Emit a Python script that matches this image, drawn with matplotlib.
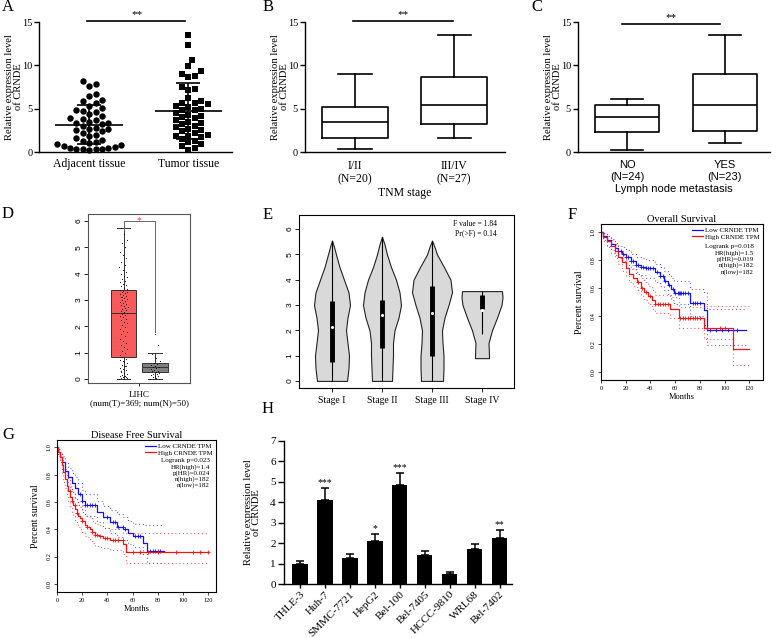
import matplotlib
matplotlib.use("Agg")
import matplotlib.pyplot as plt
import numpy as np

W, H = 776, 638
plt.rcParams['font.family'] = ['Liberation Serif', 'DejaVu Serif']
plt.rcParams['axes.linewidth'] = 1.0
SANS = ['Liberation Sans', 'DejaVu Sans']

# ---------------- data ----------------
# A: individual expression values
adj_vals = [8.2, 7.9, 7.6, 6.7, 6.5, 6.0, 5.9, 5.6, 5.3, 5.1, 4.9, 4.7, 4.6, 4.4, 4.2,
            3.9, 3.8, 3.7, 3.5, 3.4, 3.3, 3.2, 3.0, 2.8, 2.7, 2.6, 2.5, 2.4, 2.2, 2.0,
            1.9, 1.6, 1.4, 1.3, 1.2, 1.0, 0.9, 0.8, 0.7, 0.6, 0.5, 0.5, 0.4, 0.4, 0.3,
            0.3, 0.2]
tum_vals = [13.5, 12.4, 10.6, 9.9, 9.4, 9.0, 8.8, 8.7, 7.5, 7.3, 7.2, 6.2, 5.9, 5.7, 5.6,
            5.5, 5.3, 5.2, 5.0, 4.9, 4.8, 4.5, 4.3, 4.2, 4.0, 3.9, 3.7, 3.5, 3.3, 3.2,
            3.0, 2.9, 2.7, 2.5, 2.4, 2.2, 2.0, 1.9, 1.8, 1.7, 1.5, 1.3, 1.1, 0.9, 0.7,
            0.5, 0.2]
A_labels = ["Adjacent tissue", "Tumor tissue"]

# B / C: box statistics (whislo, q1, med, q3, whishi)
B_labels = ["I/II\n(N=20)", "III/IV\n(N=27)"]
B_lo = [0.3, 1.6]
B_q1 = [1.6, 3.25]
B_med = [3.5, 5.45]
B_q3 = [5.2, 8.7]
B_hi = [9.0, 13.5]

C_labels = ["NO\n(N=24)", "YES\n(N=23)"]
C_lo = [0.2, 1.0]
C_q1 = [2.3, 2.45]
C_med = [4.05, 5.45]
C_q3 = [5.4, 9.0]
C_hi = [6.15, 13.5]

# D: GEPIA box plot (tumor, normal)
D_lo = [0.0, 0.0]
D_q1 = [0.83, 0.27]
D_med = [2.5, 0.45]
D_q3 = [3.38, 0.6]
D_hi = [5.74, 1.0]
D_tumor_pts = [0.00, 0.02, 0.04, 0.06, 0.08, 0.10, 0.13, 0.16, 0.20, 0.24, 0.28, 0.33, 0.38,
               0.43, 0.48, 0.54, 0.60, 0.66, 0.72, 0.78, 0.83, 0.05, 0.12, 0.30, 0.50, 0.70,
               0.90, 0.98, 1.06, 1.14, 1.22, 1.30, 1.38, 1.46, 1.54, 1.62, 1.70, 1.77, 1.84,
               1.91, 1.98, 2.05, 2.12, 2.18, 2.24, 2.30, 2.35, 2.40, 2.44, 2.48, 2.52,
               2.56, 2.60, 2.64, 2.68, 2.72, 2.76, 2.80, 2.84, 2.88, 2.92, 2.96, 3.00, 3.04,
               3.08, 3.12, 3.16, 3.20, 3.23, 3.26, 3.29, 3.32, 3.35, 3.38, 2.70, 3.10,
               3.42, 3.47, 3.52, 3.57, 3.62, 3.68, 3.74, 3.80, 3.86, 3.93, 4.00, 4.08, 4.16,
               4.25, 4.35, 4.46, 4.58, 4.70, 4.84, 5.00, 5.15, 5.30, 5.50, 5.72]
D_normal_pts = [0.02, 0.05, 0.08, 0.10, 0.12, 0.15, 0.18, 0.20, 0.23, 0.26, 0.29, 0.32, 0.35,
                0.38, 0.41, 0.44, 0.47, 0.50, 0.54, 0.58, 0.62, 0.70, 0.80, 0.95, 1.30, 1.70]

# E: violin density profiles (half widths in stage units) and inner boxes
E_labels = ["Stage I", "Stage II", "Stage III", "Stage IV"]
E_coords = [[0, 0.5, 1, 1.5, 2, 2.5, 3, 3.5, 4, 4.5, 5, 5.3, 5.55],
            [0, 0.5, 1, 1.5, 2, 2.5, 3, 3.5, 4, 4.5, 5, 5.4, 5.7],
            [0, 0.5, 1, 1.5, 2, 2.5, 3, 3.5, 4, 4.5, 5, 5.3, 5.55],
            [0.9, 1.0, 1.5, 2.0, 2.5, 3.0, 3.3, 3.55]]
E_half = [[0.30, 0.33, 0.34, 0.31, 0.28, 0.31, 0.36, 0.33, 0.24, 0.15, 0.08, 0.04, 0.0],
          [0.20, 0.21, 0.22, 0.22, 0.25, 0.33, 0.38, 0.35, 0.28, 0.18, 0.10, 0.05, 0.0],
          [0.22, 0.23, 0.23, 0.21, 0.20, 0.25, 0.33, 0.40, 0.37, 0.24, 0.10, 0.05, 0.0],
          [0.14, 0.14, 0.13, 0.20, 0.30, 0.39, 0.41, 0.40]]
E_min = [0.0, 0.0, 0.0, 1.85]
E_max = [5.55, 5.7, 5.55, 3.55]
E_q1 = [0.75, 1.3, 1.0, 2.83]
E_q3 = [3.15, 3.2, 3.75, 3.4]
E_med = [2.15, 2.6, 2.7, 2.8]

# F: overall survival
F_low_t = [0, 2, 5, 8, 11, 14, 17, 20, 24, 28, 32, 36, 40, 44, 48, 51, 54, 57, 59, 72, 83, 86, 117]
F_low_s = [1.0, 0.97, 0.94, 0.91, 0.88, 0.86, 0.84, 0.82, 0.79, 0.76, 0.75, 0.74, 0.74, 0.71,
           0.68, 0.65, 0.62, 0.59, 0.56, 0.49, 0.44, 0.30, 0.30]
F_low_hi = [1.0, 0.99, 0.97, 0.95, 0.92, 0.90, 0.89, 0.87, 0.84, 0.82, 0.81, 0.80, 0.80, 0.77,
            0.75, 0.72, 0.70, 0.67, 0.65, 0.59, 0.57, 0.45, 0.45]
F_low_lo = [1.0, 0.94, 0.90, 0.87, 0.83, 0.81, 0.79, 0.76, 0.73, 0.70, 0.69, 0.67, 0.67, 0.64,
            0.61, 0.58, 0.55, 0.51, 0.48, 0.40, 0.33, 0.19, 0.19]
F_low_cens = [14, 16, 18, 20, 22, 24, 26, 28, 30, 32, 34, 36, 38, 40, 42, 45, 48, 50, 52, 55,
              58, 60, 62, 63, 64, 65, 66, 68, 70, 74, 76, 78, 80, 88, 93, 98, 103, 110]
F_high_t = [0, 2, 5, 8, 11, 14, 17, 20, 23, 26, 29, 32, 35, 38, 41, 44, 56, 63, 83, 107, 120]
F_high_s = [1.0, 0.96, 0.93, 0.90, 0.86, 0.82, 0.78, 0.74, 0.70, 0.67, 0.64, 0.60, 0.57, 0.54,
            0.51, 0.48, 0.45, 0.38, 0.31, 0.16, 0.16]
F_high_hi = [1.0, 0.99, 0.97, 0.94, 0.91, 0.87, 0.83, 0.80, 0.76, 0.73, 0.70, 0.67, 0.64, 0.61,
             0.58, 0.55, 0.53, 0.46, 0.47, 0.47, 0.47]
F_high_lo = [1.0, 0.93, 0.89, 0.85, 0.81, 0.77, 0.72, 0.68, 0.64, 0.61, 0.58, 0.54, 0.51, 0.48,
             0.45, 0.42, 0.38, 0.31, 0.23, 0.05, 0.05]
F_high_cens = [30, 33, 36, 40, 44, 46, 48, 50, 52, 54, 64, 66, 68, 70, 72, 74, 76, 78, 80, 86,
               96, 100]
F_stats = "Logrank p=0.018\nHR(high)=1.5\np(HR)=0.019\nn(high)=182\nn(low)=182"

# G: disease free survival
G_low_t = [0, 1, 2.5, 4, 6.3, 9, 11.6, 14.3, 16.9, 19.6, 22, 31.5, 36.5, 42, 47.4, 52.6, 56.6,
           60.6, 68.5, 71, 84.4]
G_low_s = [1.0, 0.97, 0.93, 0.89, 0.83, 0.78, 0.74, 0.70, 0.66, 0.61, 0.58, 0.53, 0.49, 0.455,
           0.42, 0.40, 0.37, 0.35, 0.30, 0.24, 0.24]
G_low_hi = [1.0, 0.99, 0.97, 0.94, 0.89, 0.85, 0.81, 0.78, 0.74, 0.69, 0.66, 0.61, 0.57, 0.54,
            0.51, 0.49, 0.46, 0.44, 0.43, 0.43, 0.43]
G_low_lo = [1.0, 0.94, 0.89, 0.84, 0.77, 0.71, 0.67, 0.62, 0.58, 0.53, 0.50, 0.45, 0.41, 0.37,
            0.34, 0.32, 0.29, 0.27, 0.22, 0.15, 0.15]
G_low_cens = [18, 20, 22, 24, 26, 28, 30, 40, 44, 46, 48, 52, 54, 62, 64, 66, 74, 76, 78, 80, 82]
G_high_t = [0, 1, 2.4, 3.7, 5, 6.3, 7.7, 9, 10.3, 11.6, 12.9, 14.3, 15.6, 17, 18.3, 20, 22, 24,
            26, 28, 30, 33, 36.7, 42, 52.6, 55, 120]
G_high_s = [1.0, 0.97, 0.93, 0.87, 0.82, 0.77, 0.72, 0.68, 0.64, 0.61, 0.58, 0.55, 0.52, 0.50,
            0.48, 0.46, 0.43, 0.42, 0.40, 0.38, 0.36, 0.35, 0.335, 0.32, 0.293, 0.23, 0.23]
G_high_hi = [1.0, 0.99, 0.97, 0.93, 0.89, 0.84, 0.80, 0.76, 0.72, 0.69, 0.66, 0.63, 0.60, 0.58,
             0.56, 0.54, 0.51, 0.50, 0.48, 0.46, 0.44, 0.43, 0.41, 0.40, 0.37, 0.37, 0.37]
G_high_lo = [1.0, 0.94, 0.89, 0.81, 0.75, 0.70, 0.65, 0.60, 0.56, 0.53, 0.50, 0.47, 0.44, 0.42,
             0.40, 0.38, 0.35, 0.34, 0.32, 0.30, 0.28, 0.27, 0.26, 0.25, 0.22, 0.15, 0.15]
G_high_cens = [10, 12, 14, 16, 20, 24, 28, 30, 32, 34, 38, 40, 44, 46, 48, 52, 60, 66, 72, 80,
               94, 108, 113, 120]
G_stats = "Logrank p=0.023\nHR(high)=1.4\np(HR)=0.024\nn(high)=182\nn(low)=182"

# H: cell lines
H_labels = ["THLE-3", "Huh-7", "SMMC-7721", "HepG2", "Bel-100", "Bel-7405", "HCCC-9810",
            "WRL68", "Bel-7402"]
H_vals = [1.0, 4.1, 1.25, 2.1, 4.85, 1.42, 0.5, 1.71, 2.25]
H_err = [0.12, 0.6, 0.2, 0.35, 0.58, 0.2, 0.09, 0.25, 0.39]
H_sig = ["", "***", "", "*", "***", "", "", "", "**"]

# ---------------- figure ----------------
fig = plt.figure(figsize=(W / 100, H / 100), dpi=100)


def add_ax(l, t, r, b):
    return fig.add_axes([l / W, 1 - b / H, (r - l) / W, (b - t) / H])


def letter(x, y, s):
    fig.text(x / W, 1 - y / H, s, fontsize=12, ha='center', va='center')


def prism_style(ax):
    for sp in ['top', 'right']:
        ax.spines[sp].set_visible(False)
    ax.tick_params(axis='y', direction='out', length=3.5, width=1, labelsize=7.5, pad=1.5)
    ax.tick_params(axis='x', length=0, labelsize=8.5, pad=4)
    ax.set_ylim(0, 15)
    ax.set_yticks([0, 5, 10, 15])


def ylab(ax, xcoord):
    ax.set_ylabel("Relative expression level\nof CRNDE", fontsize=7.6, linespacing=0.95)
    ax.yaxis.set_label_coords(xcoord, 0.5)


def swarm_x(ax, xc, vals, d):
    pts = ax.transData.transform(np.column_stack([np.full(len(vals), xc), vals]))
    inv = ax.transData.inverted()
    placed = []
    out = np.zeros(len(vals))
    cands = [0.0]
    for j in range(1, 40):
        cands += [j * d * 0.5, -j * d * 0.5]
    for i in np.argsort(vals):
        y = pts[i, 1]
        for c in cands:
            x = pts[i, 0] + c
            if all((x - px) ** 2 + (y - py) ** 2 >= (d * 0.98) ** 2 for px, py in placed):
                break
        placed.append((x, y))
        out[i] = inv.transform((x, y))[0]
    return out


# ---- A ----
axA = add_ax(39, 22, 232, 152)
prism_style(axA)
axA.tick_params(axis='y', pad=1)
axA.set_xlim(0.495, 2.44)
for xc, vals, mk, ms in [(1, adj_vals, 'o', 4.6), (2, tum_vals, 's', 4.3)]:
    xs = swarm_x(axA, xc, vals, 6.4)
    axA.plot(xs, vals, mk, color='black', ms=ms, mew=0, clip_on=False, zorder=3)
    m, sd = np.mean(vals), np.std(vals, ddof=1)
    axA.hlines(m, xc - 0.34, xc + 0.34, color='black', lw=1.2, zorder=4)
    axA.hlines([m - sd, m + sd], xc - 0.12, xc + 0.12, color='black', lw=1.2, zorder=4)
    axA.vlines(xc, m - sd, m + sd, color='black', lw=1.2, zorder=4)
axA.set_xticks([1, 2])
axA.set_xticklabels(A_labels)
axA.plot([0.98, 1.97], [15.1, 15.1], color='black', lw=1.2, clip_on=False)
axA.text(1.48, 15.3, "**", ha='center', va='bottom', fontsize=8)
ylab(axA, -0.084)
letter(8, 7, "A")


# ---- B / C ----
def box_panel(ax, lo, q1, med, q3, hi, xlim, width):
    stats = [dict(whislo=a, q1=b, med=c, q3=d, whishi=e, fliers=[])
             for a, b, c, d, e in zip(lo, q1, med, q3, hi)]
    kw = dict(color='black', lw=1.2)
    ax.bxp(stats, positions=[1, 2], widths=width, capwidths=width / 2, showfliers=False,
           boxprops=kw, whiskerprops=kw, capprops=kw, medianprops=kw)
    prism_style(ax)
    ax.set_xlim(*xlim)


axB = add_ax(305, 22, 505, 152)
box_panel(axB, B_lo, B_q1, B_med, B_q3, B_hi, (0.495, 2.515), 0.667)
axB.set_xticklabels(B_labels, linespacing=1.1)
axB.tick_params(axis='x', pad=6)
axB.set_xlabel("TNM stage", fontsize=8.5, labelpad=1)
axB.plot([0.98, 1.99], [15.1, 15.1], color='black', lw=1.2, clip_on=False)
axB.text(1.49, 15.3, "**", ha='center', va='bottom', fontsize=8)
ylab(axB, -0.08)
letter(268, 7, "B")

axC = add_ax(578, 22, 770, 152)
box_panel(axC, C_lo, C_q1, C_med, C_q3, C_hi, (0.5, 2.46), 0.65)
axC.set_xticklabels(C_labels, family=SANS, fontsize=8, linespacing=1.15)
axC.tick_params(axis='x', pad=6)
axC.set_xlabel("Lymph node metastasis", family=SANS, fontsize=8, labelpad=2)
axC.plot([0.95, 1.95], [14.8, 14.8], color='black', lw=1.2, clip_on=False)
axC.text(1.45, 15.0, "**", ha='center', va='bottom', fontsize=8)
ylab(axC, -0.083)
letter(537, 7, "C")

# ---- D ----
axD = add_ax(88, 214, 190, 383)
axD.set_xlim(-0.127, 3.11)
axD.set_ylim(-0.15, 6.27)
statsD = [dict(whislo=a, q1=b, med=c, q3=d, whishi=e, fliers=[])
          for a, b, c, d, e in zip(D_lo, D_q1, D_med, D_q3, D_hi)]
bp = axD.bxp(statsD, positions=[1, 2], widths=0.8, capwidths=0.42, showfliers=False,
             patch_artist=True,
             boxprops=dict(edgecolor='#333333', lw=0.7),
             whiskerprops=dict(color='#333333', lw=0.7),
             capprops=dict(color='#333333', lw=0.7),
             medianprops=dict(color='#333333', lw=0.7))
bp['boxes'][0].set_facecolor('#FB5A5A')
bp['boxes'][1].set_facecolor('#7F7F7F')
for xc, pts, w in [(1, D_tumor_pts, 0.26), (2, D_normal_pts, 0.3)]:
    jit = ((np.arange(len(pts)) * 0.618034) % 1 - 0.5) * w
    axD.scatter(xc + jit, pts, s=0.6, color='black', zorder=3, lw=0)
axD.plot([1, 1, 2, 2], [5.65, 6.0, 6.0, 1.8], color='#666666', lw=0.7)
axD.text(1.5, 6.0, "*", color='#FF4040', ha='center', va='center', fontsize=7)
axD.set_yticks(range(7))
axD.tick_params(axis='y', labelrotation=90, labelsize=6, length=3, width=0.6, pad=1)
for lab in axD.get_yticklabels():
    lab.set_family(SANS)
    lab.set_va('center')
axD.set_xticks([1.5])
axD.set_xticklabels(["LIHC\n(num(T)=369; num(N)=50)"], fontsize=6.5, linespacing=1.1)
axD.tick_params(axis='x', length=2.5, width=0.6, pad=3)
for sp in axD.spines.values():
    sp.set_color('#555555')
    sp.set_linewidth(0.8)
letter(8, 214, "D")

# ---- E ----
axE = add_ax(299, 215, 514, 388)
axE.set_xlim(0.34, 4.64)
axE.set_ylim(-0.28, 6.56)
pos = [1, 2, 3, 4]
vpstats = [dict(coords=np.array(c), vals=np.array(h), mean=m, median=m, min=a, max=b)
           for c, h, m, a, b in zip(E_coords, E_half, E_med, E_min, E_max)]
widths = [2 * max(h) for h in E_half]
vp = axE.violin(vpstats, positions=pos, widths=widths, showextrema=False)
for body in vp['bodies']:
    body.set_facecolor('#D9D9D9')
    body.set_edgecolor('#222222')
    body.set_linewidth(0.8)
    body.set_alpha(1)
axE.vlines(pos, E_min, E_max, color='black', lw=0.8, zorder=3)
axE.vlines(pos, E_q1, E_q3, color='black', lw=3.5, zorder=3)
axE.plot(pos, E_med, 'o', color='white', ms=2.2, mew=0, zorder=4)
axE.text(0.92, 0.97, "F value = 1.84\nPr(>F) = 0.14", transform=axE.transAxes,
         ha='right', va='top', fontsize=5.5, linespacing=1.2)
axE.set_yticks(range(7))
axE.tick_params(axis='y', labelrotation=90, labelsize=6, length=3, width=0.6, pad=1)
for lab in axE.get_yticklabels():
    lab.set_family(SANS)
    lab.set_va('center')
axE.set_xticks(pos)
axE.set_xticklabels(E_labels, fontsize=7)
axE.tick_params(axis='x', length=3, width=0.6, pad=3)
for sp in axE.spines.values():
    sp.set_linewidth(0.8)
letter(268, 215, "E")


# ---- F / G ----
def km(ax, t, s, lo, hi, cens, color, label):
    ax.step(t, s, where='post', color=color, lw=0.9, label=label)
    for band in (lo, hi):
        ax.step(t, band, where='post', color=color, lw=0.8, ls=(0, (0.8, 2.6)), alpha=0.8)
    idx = np.searchsorted(t, cens, side='right') - 1
    ax.plot(cens, np.array(s)[idx], '+', color=color, ms=3.5, mew=0.6)


def km_axes(ax, xmax, title, stats, stats_xy):
    ax.set_xlim(0, xmax)
    ax.set_ylim(-0.06, 1.055)
    ax.set_xticks(range(0, 121, 20))
    ax.set_yticks([0, 0.2, 0.4, 0.6, 0.8, 1.0])
    ax.set_yticklabels(["0.0", "0.2", "0.4", "0.6", "0.8", "1.0"])
    ax.tick_params(labelsize=4.5, length=2.5, width=0.5, pad=1.5)
    ax.tick_params(axis='y', labelrotation=90)
    for lab in ax.get_yticklabels():
        lab.set_va('center')
    for sp in ax.spines.values():
        sp.set_linewidth(0.8)
    ax.set_title(title, fontsize=7.5, pad=1.5)
    ax.set_xlabel("Months", fontsize=6, labelpad=2)
    ax.set_ylabel("Percent survival", fontsize=7, labelpad=5)
    ax.legend(loc='upper right', frameon=False, fontsize=5, handlelength=1.6,
              handletextpad=0.3, labelspacing=0.05, borderaxespad=0.3, borderpad=0.2)
    ax.text(stats_xy[0], stats_xy[1], stats, transform=ax.transAxes, ha='right', va='top',
            fontsize=5, linespacing=1.12)


axF = add_ax(601, 224, 763, 380)
km(axF, F_low_t, F_low_s, F_low_lo, F_low_hi, F_low_cens, '#1010FF', "Low CRNDE TPM")
km(axF, F_high_t, F_high_s, F_high_lo, F_high_hi, F_high_cens, '#FF1010', "High CRNDE TPM")
km_axes(axF, 131, "Overall Survival", F_stats, (0.945, 0.87))
letter(572, 215, "F")

axG = add_ax(57, 440, 216, 592)
km(axG, G_low_t, G_low_s, G_low_lo, G_low_hi, G_low_cens, '#1010FF', "Low CRNDE TPM")
km(axG, G_high_t, G_high_s, G_high_lo, G_high_hi, G_high_cens, '#FF1010', "High CRNDE TPM")
km_axes(axG, 126, "Disease Free Survival", G_stats, (0.962, 0.88))
letter(8, 435, "G")

# ---- H ----
axH = add_ax(284, 441, 512, 584)
x = np.arange(len(H_vals))
axH.bar(x, H_vals, width=0.62, color='black')
axH.errorbar(x, H_vals, yerr=[np.zeros(len(H_err)), H_err], fmt='none', ecolor='black',
             elinewidth=1.1, capsize=3, capthick=1.1)
for xi, v, e, s in zip(x, H_vals, H_err, H_sig):
    if s:
        axH.text(xi, v + e + 0.05, s, ha='center', va='bottom', fontsize=7)
axH.set_xlim(-0.64, 8.5)
axH.set_ylim(0, 7)
axH.set_yticks(range(8))
for sp in ['top', 'right']:
    axH.spines[sp].set_visible(False)
axH.tick_params(axis='y', direction='out', length=4, width=1, labelsize=8, pad=2)
axH.tick_params(axis='x', direction='out', length=3, width=1, pad=1)
axH.set_xticks(x)
axH.set_xticklabels(H_labels, rotation=45, ha='right', rotation_mode='anchor', fontsize=8)
ylab(axH, -0.1)
letter(268, 409, "H")

fig.savefig("out.png", dpi=100)
